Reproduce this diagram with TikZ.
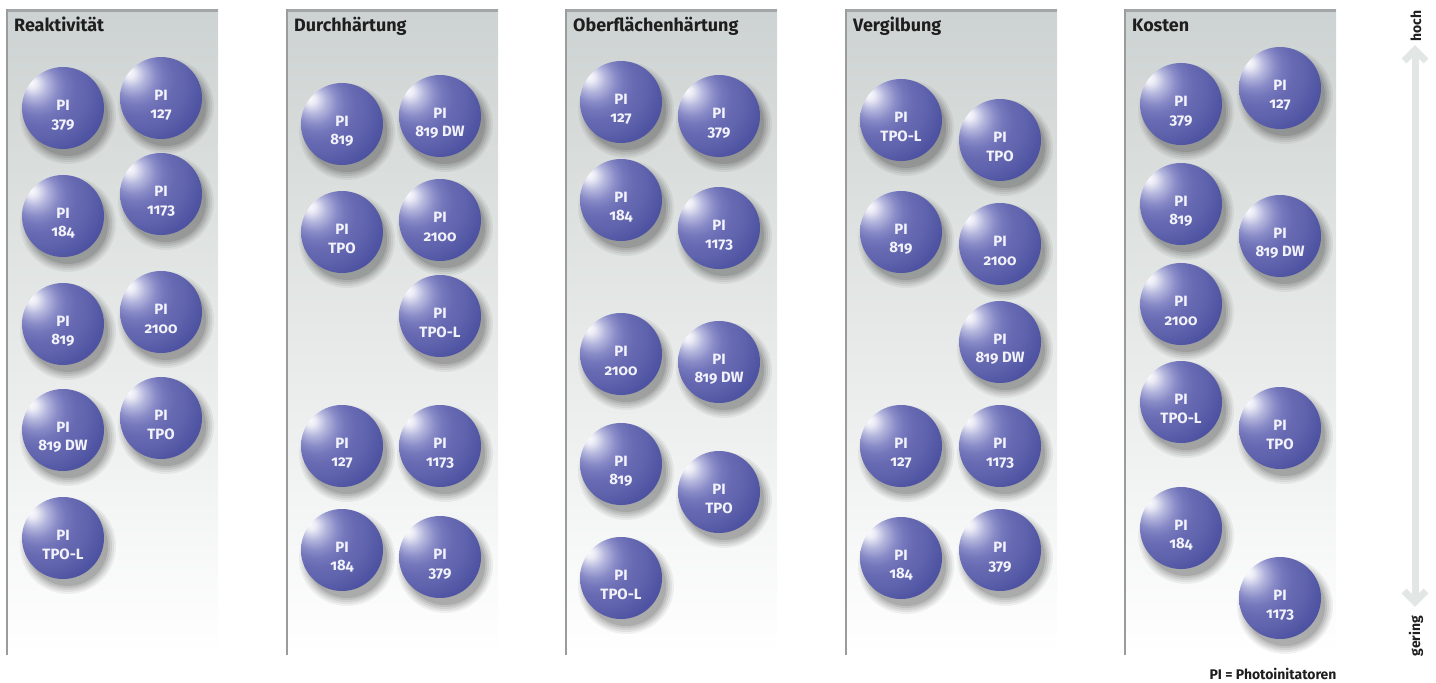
\documentclass[tikz,border=0pt]{standalone}
\usepackage{fontspec}
\setsansfont{Fira Sans}[Numbers=OldStyle]
\usetikzlibrary{arrows.meta}
\definecolor{sph0}{HTML}{FAFAFE}
\definecolor{sph1}{HTML}{ECECF6}
\definecolor{sph2}{HTML}{B4B6DD}
\definecolor{sph3}{HTML}{8A8CC8}
\definecolor{sph4}{HTML}{7477BB}
\definecolor{sph5}{HTML}{676AB2}
\definecolor{sph6}{HTML}{5F63AD}
\definecolor{sph7}{HTML}{4A4F9F}
\definecolor{sph8}{HTML}{343A91}
\definecolor{sph9}{HTML}{293186}
\definecolor{sph10}{HTML}{242C80}
\definecolor{colTop}{HTML}{CDD3D2}
\definecolor{colMid}{HTML}{E6E9E8}
\definecolor{barGray}{HTML}{A3A6A6}
\definecolor{lineGray}{HTML}{9A9C9C}
\definecolor{arrowGray}{HTML}{E2E6E4}
\definecolor{txtDark}{HTML}{1E1E1E}
\definecolor{piWhite}{HTML}{F2F2FA}
\pgfdeclareradialshading{sphereblue}{\pgfpoint{-20bp}{16bp}}{color(0bp)=(sph0); color(3bp)=(sph1); color(8bp)=(sph2); color(13bp)=(sph3); color(17bp)=(sph4); color(22bp)=(sph5); color(28bp)=(sph6); color(38bp)=(sph7); color(50bp)=(sph8); color(60bp)=(sph9); color(75bp)=(sph10)}
\tikzset{
  sphere/.style={circle, minimum size=82bp, inner sep=0pt, shade, shading=sphereblue},
  pitext/.style={text=piWhite, align=center, inner sep=0pt, font=\sffamily\bfseries\fontsize{15}{18.5}\selectfont},
  head/.style={anchor=base west, inner sep=0pt, text=txtDark, font=\sffamily\bfseries\fontsize{18}{20}\selectfont},
  colbg/.style={top color=colTop, bottom color=white, middle color=colMid},
  sidetext/.style={inner sep=0pt, text=txtDark, font=\sffamily\bfseries\fontsize{14}{16}\selectfont},
  arrowline/.style={draw=arrowGray, line width=7bp, line join=miter}
}
\newcommand\pib[4]{%
  \foreach \rr/\op in {48/0.05,46/0.06,44/0.07,42/0.08,40/0.1}{\fill[black,opacity=\op] (#2+5,#3+8) circle (\rr bp);}
  \node[sphere] (#1) at (#2,#3) {};
  \node[pitext] (#1t) at ([yshift=-7bp]#1.center) {PI\\#4};
}
\begin{document}
\begin{tikzpicture}[x=1bp,y=-1bp]
\useasboundingbox (0,0) rectangle (1436,683);
% columns
\foreach \cx in {7,287,566,846,1125}{
  \shade[colbg] (\cx,10) rectangle (\cx+211,655);
  \fill[barGray] (\cx,9) rectangle (\cx+211,12);
  \draw[lineGray, line width=1.2bp] (\cx,9) -- (\cx,655);
}
\node[head] (h1) at (14,32) {Reaktivität};
\node[head] (h2) at (294,32) {Durchhärtung};
\node[head] (h3) at (573,32) {Oberflächenhärtung};
\node[head] (h4) at (853,32) {Vergilbung};
\node[head] (h5) at (1132,32) {Kosten};
% column 1
\pib{a1}{63}{108}{379}
\pib{a2}{161}{98}{127}
\pib{a3}{63}{216}{184}
\pib{a4}{161}{194}{1173}
\pib{a5}{63}{324}{819}
\pib{a6}{161}{312}{2100}
\pib{a7}{63}{430}{819 DW}
\pib{a8}{161}{418}{TPO}
\pib{a9}{63}{538}{TPO-L}
% column 2
\pib{b1}{342}{124}{819}
\pib{b2}{440}{116}{819 DW}
\pib{b3}{342}{232}{TPO}
\pib{b4}{440}{220}{2100}
\pib{b5}{440}{316}{TPO-L}
\pib{b6}{342}{446}{127}
\pib{b7}{440}{446}{1173}
\pib{b8}{342}{550}{184}
\pib{b9}{440}{557}{379}
% column 3
\pib{c1}{621}{102}{127}
\pib{c2}{719}{116}{379}
\pib{c3}{621}{200}{184}
\pib{c4}{719}{228}{1173}
\pib{c5}{621}{354}{2100}
\pib{c6}{719}{362}{819 DW}
\pib{c7}{621}{464}{819}
\pib{c8}{719}{492}{TPO}
\pib{c9}{621}{578}{TPO-L}
% column 4
\pib{d1}{901}{120}{TPO-L}
\pib{d2}{1000}{140}{TPO}
\pib{d3}{901}{232}{819}
\pib{d4}{1000}{244}{2100}
\pib{d5}{1000}{342}{819 DW}
\pib{d6}{901}{446}{127}
\pib{d7}{1000}{446}{1173}
\pib{d8}{901}{558}{184}
\pib{d9}{1000}{550}{379}
% column 5
\pib{e1}{1181}{104}{379}
\pib{e2}{1280}{88}{127}
\pib{e3}{1181}{204}{819}
\pib{e4}{1280}{236}{819 DW}
\pib{e5}{1181}{304}{2100}
\pib{e6}{1181}{402}{TPO-L}
\pib{e7}{1280}{428}{TPO}
\pib{e8}{1181}{528}{184}
\pib{e9}{1280}{598}{1173}
% scale arrow
\coordinate (atop) at (1415,50);
\coordinate (abot) at (1415,602);
\draw[arrowline] (atop) -- (abot);
\draw[arrowline] ([shift={(-11,11)}]atop) -- (atop) -- ++(11,11);
\draw[arrowline] ([shift={(-11,-11)}]abot) -- (abot) -- ++(11,-11);
\node[sidetext, rotate=90] (hoch) at (1416,26) {hoch};
\node[sidetext, rotate=90] (gering) at (1416,636) {gering};
\node[sidetext, anchor=base] (legend) at (1273,679) {PI = Photoinitatoren};
\end{tikzpicture}
\end{document}
